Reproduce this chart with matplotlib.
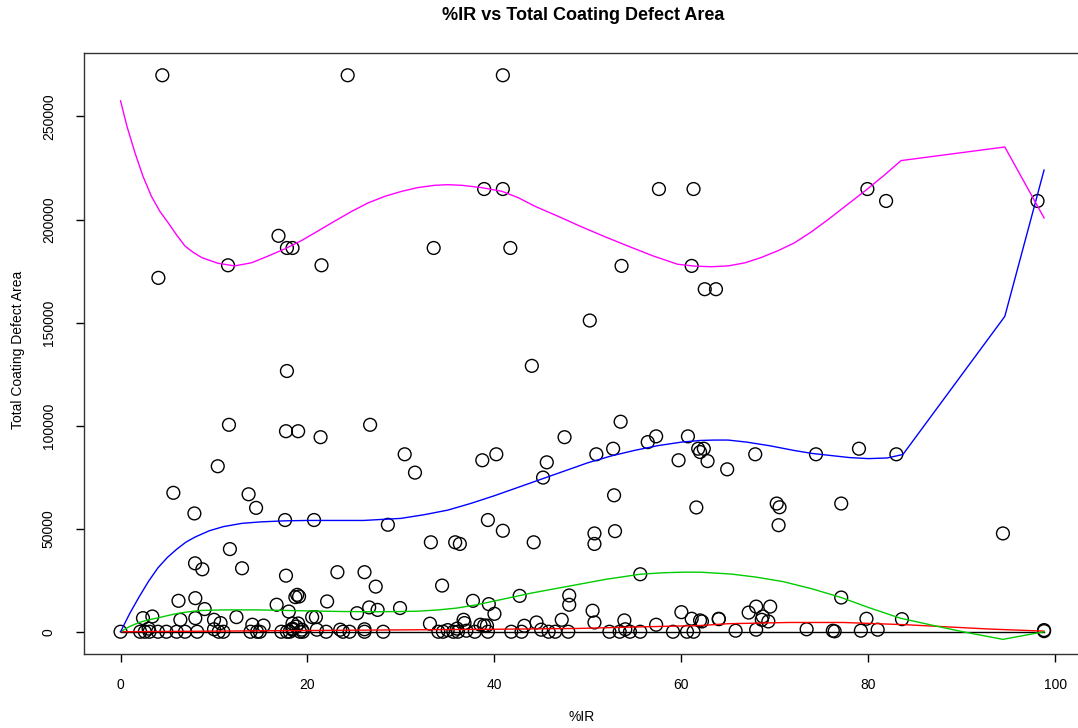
import matplotlib
matplotlib.use("Agg")
import matplotlib.pyplot as plt
import numpy as np

plt.rcParams['font.family'] = ['Liberation Sans', 'DejaVu Sans']

# ---- scatter data: %IR vs Total Coating Defect Area (thousands) ----
ir_pts = [
    4.47, 24.3, 40.9,
    4.05, 11.5, 16.9, 17.8, 18.4, 21.5, 33.5, 38.9, 40.9, 41.7, 53.6, 57.6, 61.3, 61.1, 62.5, 63.7, 79.9, 81.9, 98.1,
    17.8, 44.0, 50.2,
    11.6, 17.7, 19.0, 21.4, 26.7, 10.4, 30.4, 31.5, 38.7, 40.2, 47.5, 45.6, 45.2, 5.65, 13.7, 7.9, 14.5, 17.6, 20.7,
    28.6, 39.3, 40.9, 33.2, 35.8, 36.3, 44.2, 11.7,
    53.5, 57.3, 56.4, 60.7, 52.7, 50.9, 61.8, 62.4, 62.0, 62.8, 59.7, 64.9, 67.9, 74.4, 79.0, 83.0, 52.8, 61.6, 70.2,
    70.5, 77.1, 70.4, 50.7, 50.7, 52.9, 94.4,
    7.97, 8.75, 13.0, 17.7, 23.2, 26.1, 27.3, 18.9, 19.1, 18.7, 22.1, 6.2, 8.0, 9.0, 29.9, 26.6, 27.5, 25.3, 16.7, 18.0,
    2.4, 3.4, 6.4, 8.0, 10.0, 10.7, 12.4, 14.1, 15.3, 18.4, 19.0, 18.8, 18.4, 18.4, 19.4, 20.5, 20.9,
    3.0, 10.0, 21.0, 23.5, 26.1,
    0.0, 2.1, 2.6, 3.1, 4.0, 4.9, 6.0, 6.9, 8.2, 10.5, 11.0, 13.9, 14.6, 14.9, 17.2, 17.8, 18.1, 19.2, 19.5, 22.0,
    23.8, 24.5, 26.1, 28.1,
    34.4, 37.7, 39.4, 40.0, 42.7, 48.0, 48.0, 55.6, 50.5, 50.7, 53.9, 57.3, 60.0, 61.1, 62.0, 64.0, 33.1, 36.7, 36.8,
    38.5, 38.9, 39.2, 43.2, 44.5, 47.2,
    35.0, 36.0, 37.0, 45.0, 54.0,
    34.0, 34.5, 35.6, 36.1, 37.9, 39.3, 41.8, 42.9, 45.8, 46.5, 47.9, 52.3, 53.4, 54.5, 55.6, 59.1, 60.6, 61.3,
    77.1, 62.2, 64.0, 67.2, 68.0, 69.5, 68.7, 69.3, 68.6, 79.8, 83.6,
    65.8, 68.0, 73.4, 76.2, 76.4, 79.2, 81.0, 98.8, 98.8,
]
area_k = [
    270, 270, 270,
    171.7, 177.8, 192.1, 186.2, 186.2, 177.8, 186.2, 214.8, 214.8, 186.2, 177.5, 214.8, 214.8, 177.5, 166.2, 166.2,
    214.8, 209, 209,
    126.5, 129, 151,
    100.4, 97.3, 97.3, 94.4, 100.4, 80.3, 86.1, 77.2, 83.2, 86.1, 94.4, 82.2, 74.8, 67.4, 66.7, 57.4, 60.1, 54.2, 54.2,
    51.9, 54.2, 49.0, 43.4, 43.4, 42.6, 43.4, 40.1,
    101.9, 94.8, 92.0, 94.8, 88.8, 86.1, 88.8, 88.8, 87.2, 82.8, 83.2, 78.8, 86.1, 86.1, 88.8, 86.1, 66.2, 60.3, 62.2,
    60.4, 62.2, 51.7, 47.7, 42.6, 48.8, 47.7,
    33.2, 30.3, 30.8, 27.2, 28.9, 28.9, 21.9, 17.9, 17.1, 16.8, 14.7, 15.0, 16.3, 11.0, 11.5, 11.8, 10.6, 9.0, 13.1, 9.8,
    6.6, 7.4, 5.8, 6.6, 5.8, 4.2, 7.1, 3.4, 3.0, 4.0, 4.0, 2.5, 1.5, 1.0, 1.0, 7.1, 7.1,
    1.5, 1.2, 1.0, 1.0, 1.2,
    0, 0, 0, 0, 0, 0, 0, 0, 0, 0, 0, 0, 0, 0, 0, 0, 0, 0, 0, 0,
    0, 0, 0, 0,
    22.4, 15.0, 13.4, 8.7, 17.4, 17.6, 13.1, 27.9, 10.2, 4.5, 5.5, 3.4, 9.5, 6.3, 5.5, 6.3, 3.9, 5.8, 4.2,
    3.4, 3.0, 3.0, 2.9, 4.5, 5.8,
    0.8, 1.5, 0.5, 1.0, 1.2,
    0, 0, 0, 0, 0, 0, 0, 0, 0, 0, 0, 0, 0, 0, 0, 0, 0, 0,
    16.6, 5.0, 6.1, 9.3, 12.2, 12.2, 7.4, 5.0, 5.8, 6.3, 6.1,
    0.5, 1.0, 1.2, 0.5, 0.2, 0.5, 1.0, 0.3, 0.8,
]

# ---- fitted quantile curves (thousands) ----
q10_x = [0, 98.8]
q10_y = [0, 0]

q25_x = [0, 10, 20, 30, 40, 49, 55, 62, 65, 71.6, 77.3, 84, 93, 98.8]
q25_y = [0, 0.3, 0.6, 0.9, 1.2, 1.6, 2.3, 3.0, 3.9, 4.5, 4.5, 3.4, 1.3, 0.3]

q50_x = [0, 1, 2, 3, 3.9, 5, 6, 7, 8.5, 11, 14.6, 18, 21.3, 24, 27, 30, 32, 34, 36, 38, 40.6, 44, 47.7, 52,
         55.6, 58, 60.2, 62, 65.3, 68, 70.9, 74, 77.1, 80, 83.4, 87, 90.1, 94.4, 98.8]
q50_y = [0, 2.6, 4.5, 5.8, 6.6, 7.8, 8.8, 9.5, 10.3, 10.6, 10.6, 10.3, 10.0, 9.8, 9.7, 9.8, 10.0, 10.6, 11.5,
         13.0, 15.5, 18.8, 21.9, 25.5, 27.9, 28.6, 28.9, 28.9, 28.0, 26.5, 24.3, 20.8, 16.6, 11.8, 6.6, 3.0,
         0, -3.7, 0]

q75_x = [0, 1, 2, 3, 4, 5, 6, 7, 8, 9.5, 11, 13, 15, 17.5, 20, 23, 26, 28, 30, 32.5, 35, 37.5, 40, 42.5, 45,
         47.5, 50, 52.5, 55, 57.5, 60, 62, 63.5, 65, 67, 69.5, 72, 74, 76, 78, 80, 82, 83.7, 94.6, 98.8]
q75_y = [0, 9, 17, 24.5, 31, 36, 40, 43.5, 46, 49, 51, 52.6, 53.3, 53.8, 54, 54, 54, 54.5, 55, 56.8, 59, 62.3,
         66, 70, 74, 78, 82, 85.3, 88, 90.3, 92, 92.8, 93, 93, 92, 90.2, 88, 86.5, 85.5, 84.5, 84, 84.3, 86,
         153, 224]

q90_x = [0, 0.7, 1.55, 2.4, 3.3, 4.2, 5.1, 6.0, 6.9, 7.8, 8.7, 10.4, 12.2, 14.0, 15.8, 17.6, 19.4, 21.1, 22.9,
         24.7, 26.5, 28.3, 30.1, 31.8, 33.6, 35.0, 36.5, 38.6, 40.8, 42.6, 44.3, 46.8, 49.3, 51.8, 54.3, 57.0,
         59.6, 61.4, 63.2, 65.0, 66.8, 68.5, 70.3, 72.1, 73.9, 75.7, 77.8, 79.9, 81.7, 83.5, 94.6, 98.8]
q90_y = [257.6, 245.0, 232.3, 221.0, 211.3, 204.0, 198.4, 192.5, 187.1, 184.0, 181.5, 178.8, 177.5, 179.0,
         182.3, 185.8, 189.9, 194.4, 199.2, 203.9, 208.1, 211.3, 213.7, 215.5, 216.6, 216.9, 216.6, 215.5,
         213.7, 210.5, 206.5, 201.6, 196.5, 191.7, 187.1, 182.3, 178.3, 177.4, 177.1, 177.5, 179.0, 181.5,
         184.8, 188.7, 194.0, 200.0, 207.4, 214.8, 221.5, 228.6, 235.2, 200.8]

curves = [
    (q10_x, q10_y, 'black'),
    (q25_x, q25_y, '#FF0000'),
    (q50_x, q50_y, '#00CC00'),
    (q75_x, q75_y, '#0000FF'),
    (q90_x, q90_y, '#FF00FF'),
]

x_ticks = [0, 20, 40, 60, 80, 100]
y_ticks = [0, 50000, 100000, 150000, 200000, 250000]

fig = plt.figure(figsize=(10.78, 7.28), dpi=100)
ax = fig.add_axes([83.6 / 1078, 74 / 728, 997.4 / 1078, 601 / 728])

ax.scatter(ir_pts, np.array(area_k) * 1000, s=85, facecolors='none', edgecolors='black',
           linewidths=1.0, zorder=2)
for cx, cy, col in curves:
    ax.plot(cx, np.array(cy) * 1000, color=col, lw=1.0, zorder=3)

xmin, xmax = 0, 98.8
ymin, ymax = 0, 270000
px = (xmax - xmin) * 0.04
py = (ymax - ymin) * 0.04
ax.set_xlim(xmin - px, xmax + px)
ax.set_ylim(ymin - py, ymax + py)

ax.set_xticks(x_ticks)
ax.set_xticklabels([str(t) for t in x_ticks])
ax.set_yticks(y_ticks)
ax.set_yticklabels([str(t) for t in y_ticks], rotation=90, va='center')
ax.tick_params(axis='both', direction='out', length=6, width=1, labelsize=10)
ax.tick_params(axis='x', pad=11)
ax.tick_params(axis='y', pad=14)
for sp in ax.spines.values():
    sp.set_linewidth(1.0)
    sp.set_color('#333333')

fig.text(583 / 1078, 1 - 15 / 728, '%IR vs Total Coating Defect Area', ha='center', va='center',
         fontsize=13, fontweight='bold')
fig.text(582 / 1078, 1 - 717 / 728, '%IR', ha='center', va='center', fontsize=10)
fig.text(18 / 1078, 1 - 350 / 728, 'Total Coating Defect Area', ha='center', va='center',
         rotation=90, fontsize=10)

fig.savefig('out.png', dpi=100)
